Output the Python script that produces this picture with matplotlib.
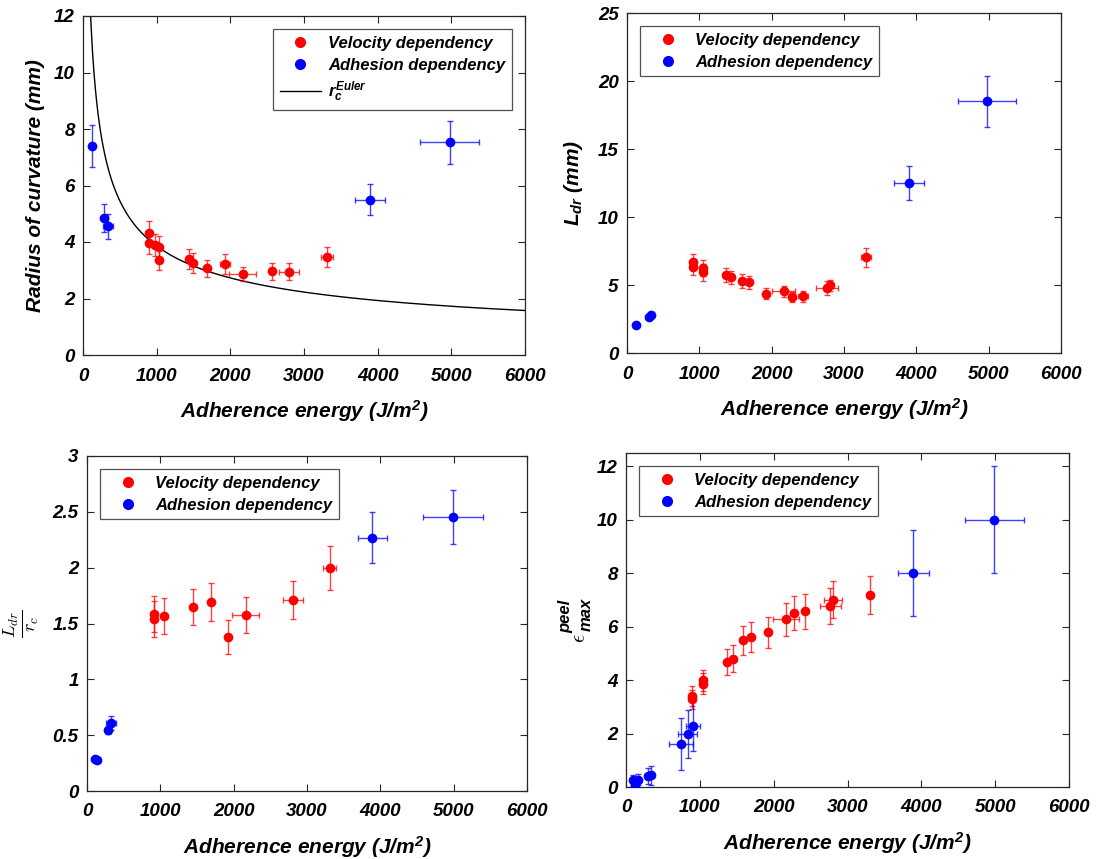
import numpy as np
import matplotlib
matplotlib.use("Agg")
import matplotlib.pyplot as plt
from matplotlib.lines import Line2D

plt.rcParams['font.family'] = ['Liberation Sans', 'DejaVu Sans']
plt.rcParams['font.weight'] = 'bold'
plt.rcParams['font.style'] = 'italic'
plt.rcParams['axes.labelweight'] = 'bold'
plt.rcParams['mathtext.fontset'] = 'custom'
plt.rcParams['mathtext.it'] = 'Liberation Sans:bold:italic'
plt.rcParams['mathtext.rm'] = 'Liberation Sans:bold:italic'
plt.rcParams['mathtext.bf'] = 'Liberation Sans:bold:italic'

RED = '#ff0000'
BLUE = '#0000ff'

# ---------------- Panel A: radius of curvature ----------------
rA_vel_G = [900, 900, 977, 1036, 1027, 1434, 1497, 1683, 1922, 2167, 2565, 2799, 3306]
rA_vel_r = [4.31, 3.98, 3.89, 3.83, 3.36, 3.39, 3.27, 3.07, 3.22, 2.86, 2.97, 2.94, 3.48]
rA_vel_rerr = [0.45, 0.40, 0.40, 0.40, 0.35, 0.35, 0.35, 0.30, 0.35, 0.25, 0.30, 0.30, 0.35]
rA_vel_Gerr = [0, 0, 0, 0, 0, 0, 0, 0, 68, 181, 0, 136, 81]
rA_adh_G = [126, 289, 344, 3895, 4980]
rA_adh_r = [7.40, 4.86, 4.55, 5.49, 7.53]
rA_adh_rerr = [0.75, 0.50, 0.45, 0.55, 0.76]
rA_adh_Gerr = [0, 0, 68, 204, 400]
euler_coef = 122.0  # r_c^Euler = coef / sqrt(G)

# ---------------- Panel B: L_dr ----------------
lB_vel_G = [907, 907, 1046, 1046, 1373, 1443, 1590, 1692, 1922, 2166, 2282, 2434, 2766, 2802, 3306]
lB_vel_L = [6.69, 6.32, 6.25, 5.93, 5.73, 5.56, 5.29, 5.19, 4.36, 4.53, 4.12, 4.16, 4.78, 4.97, 7.03]
lB_vel_Lerr = [0.6, 0.6, 0.6, 0.6, 0.5, 0.5, 0.5, 0.5, 0.4, 0.4, 0.4, 0.4, 0.5, 0.4, 0.7]
lB_vel_Gerr = [0, 0, 0, 0, 0, 0, 0, 0, 0, 160, 0, 70, 157, 0, 70]
lB_adh_G = [124, 300, 336, 3899, 4982]
lB_adh_L = [2.03, 2.62, 2.79, 12.52, 18.5]
lB_adh_Lerr = [0.0, 0.0, 0.0, 1.25, 1.85]
lB_adh_Gerr = [0, 0, 0, 203, 400]

# ---------------- Panel C: L_dr / r_c ----------------
cC_vel_G = [910, 910, 1051, 1443, 1689, 1925, 2162, 2808, 3309]
cC_vel_R = [1.585, 1.543, 1.564, 1.645, 1.69, 1.379, 1.579, 1.707, 1.997]
cC_vel_Rerr = [0.16, 0.16, 0.16, 0.16, 0.17, 0.15, 0.16, 0.17, 0.20]
cC_vel_Gerr = [0, 0, 0, 0, 0, 0, 182, 141, 90]
cC_adh_G = [114, 137, 287, 323, 3892, 4989]
cC_adh_R = [0.287, 0.275, 0.543, 0.609, 2.27, 2.454]
cC_adh_Rerr = [0.0, 0.0, 0.03, 0.06, 0.23, 0.245]
cC_adh_Gerr = [0, 0, 0, 68, 200, 405]

# ---------------- Panel D: epsilon_max^peel ----------------
dD_vel_G = [898, 898, 1037, 1037, 1362, 1443, 1588, 1691, 1921, 2165, 2273, 2431, 2769, 2805, 3311]
dD_vel_E = [3.40, 3.28, 3.99, 3.87, 4.69, 4.80, 5.49, 5.60, 5.79, 6.28, 6.51, 6.58, 6.77, 7.01, 7.19]
dD_vel_Eerr = [0.38, 0.35, 0.40, 0.38, 0.48, 0.50, 0.54, 0.56, 0.58, 0.62, 0.65, 0.66, 0.68, 0.70, 0.71]
dD_vel_Gerr = [0, 0, 0, 0, 0, 0, 0, 0, 0, 180, 0, 0, 147, 120, 0]
dD_adh_G = [99, 122, 167, 302, 334, 744, 834, 911, 3893, 4989]
dD_adh_E = [0.25, 0.06, 0.27, 0.40, 0.44, 1.61, 1.98, 2.28, 8.0, 10.0]
dD_adh_Eerr = [0.2, 0.2, 0.2, 0.3, 0.35, 0.98, 0.91, 0.94, 1.6, 2.0]
dD_adh_Gerr = [0, 0, 0, 0, 0, 165, 130, 95, 205, 400]

W, H = 1097, 859
fig = plt.figure(figsize=(W / 100, H / 100), dpi=100)

def px_axes(l, t, r, b):
    return fig.add_axes([l / W, 1 - b / H, (r - l) / W, (b - t) / H])

axA = px_axes(83, 16, 525, 355)
axB = px_axes(627, 13, 1061, 353)
axC = px_axes(87, 456, 527, 791)
axD = px_axes(626, 453, 1069, 787)

TICKFS = 13.5
LABFS = 15
LEGFS = 12

def style(ax, ylim, yticks, ylabels=None):
    ax.set_xlim(0, 6000)
    ax.set_xticks(range(0, 6001, 1000))
    ax.set_ylim(*ylim)
    ax.set_yticks(yticks)
    if ylabels is not None:
        ax.set_yticklabels(ylabels)
    ax.tick_params(direction='in', top=True, right=True, length=5, width=0.8,
                   labelsize=TICKFS, color='#262626')
    ax.tick_params(axis='x', pad=9)
    ax.tick_params(axis='y', pad=6)
    for s in ax.spines.values():
        s.set_color('#262626')
        s.set_linewidth(0.9)
    for lab in ax.get_xticklabels() + ax.get_yticklabels():
        lab.set_fontweight('bold')
        lab.set_fontstyle('italic')
    ax.set_xlabel('Adherence energy (J/m$^2$)', fontsize=LABFS, labelpad=10)

def eb(ax, G, Y, Yerr, Gerr, color):
    ax.errorbar(G, Y, yerr=Yerr, xerr=Gerr, fmt='none', ecolor=color,
                elinewidth=1.0, capsize=2.5, capthick=1.0, alpha=0.75, zorder=2)
    ax.plot(G, Y, 'o', color=color, markersize=7, markeredgewidth=0, zorder=3)

def legend(ax, loc, extra=None):
    handles = [Line2D([], [], marker='o', color=RED, linestyle='none', markersize=7),
               Line2D([], [], marker='o', color=BLUE, linestyle='none', markersize=7)]
    labels = ['Velocity dependency', 'Adhesion dependency']
    if extra is not None:
        handles.append(extra[0])
        labels.append(extra[1])
    lg = ax.legend(handles, labels, loc=loc, fontsize=LEGFS,
                   frameon=True, fancybox=False, edgecolor='#262626',
                   borderpad=0.4, labelspacing=0.4, handlelength=2.5,
                   handletextpad=0.4, borderaxespad=0.8)
    lg.get_frame().set_linewidth(0.9)
    return lg

# Panel A
eb(axA, rA_vel_G, rA_vel_r, rA_vel_rerr, rA_vel_Gerr, RED)
eb(axA, rA_adh_G, rA_adh_r, rA_adh_rerr, rA_adh_Gerr, BLUE)
Gc = np.linspace(60, 6000, 600)
axA.plot(Gc, euler_coef / np.sqrt(Gc), color='black', linewidth=1.0, zorder=1)
style(axA, (0, 12), range(0, 13, 2))
axA.set_ylabel('Radius of curvature (mm)', fontsize=LABFS)
axA.yaxis.set_label_coords(-0.086, 0.5)
legend(axA, 'upper right', extra=(Line2D([], [], color='black', linewidth=1.0), '$r_c^{Euler}$'))

# Panel B
eb(axB, lB_vel_G, lB_vel_L, lB_vel_Lerr, lB_vel_Gerr, RED)
eb(axB, lB_adh_G, lB_adh_L, lB_adh_Lerr, lB_adh_Gerr, BLUE)
style(axB, (0, 25), range(0, 26, 5))
axB.set_ylabel('$L_{dr}$ (mm)', fontsize=LABFS)
axB.yaxis.set_label_coords(-0.097, 0.5)
legend(axB, 'upper left')

# Panel C
eb(axC, cC_vel_G, cC_vel_R, cC_vel_Rerr, cC_vel_Gerr, RED)
eb(axC, cC_adh_G, cC_adh_R, cC_adh_Rerr, cC_adh_Gerr, BLUE)
style(axC, (0, 3), [0, 0.5, 1, 1.5, 2, 2.5, 3], ['0', '0.5', '1', '1.5', '2', '2.5', '3'])
axC.set_ylabel(r'$\frac{L_{dr}}{r_c}$', fontsize=19, math_fontfamily='cm')
axC.yaxis.set_label_coords(-0.105, 0.5)
legend(axC, 'upper left')

# Panel D
eb(axD, dD_vel_G, dD_vel_E, dD_vel_Eerr, dD_vel_Gerr, RED)
eb(axD, dD_adh_G, dD_adh_E, dD_adh_Eerr, dD_adh_Gerr, BLUE)
style(axD, (0, 12.5), range(0, 13, 2))
legend(axD, 'upper left')
# y label: epsilon with "peel" superscript and "max" subscript (rotated)
fig.text(580 / W, 1 - 638 / H, r'$\epsilon$', rotation=90, ha='center', va='center',
         fontsize=15, math_fontfamily='cm', fontweight='normal', fontstyle='normal')
fig.text(566 / W, 1 - 633 / H, 'peel', rotation=90, ha='center', va='bottom',
         fontsize=12, fontweight='bold', fontstyle='italic')
fig.text(586 / W, 1 - 631 / H, 'max', rotation=90, ha='center', va='bottom',
         fontsize=12, fontweight='bold', fontstyle='italic')

fig.savefig('out.png', dpi=100)
